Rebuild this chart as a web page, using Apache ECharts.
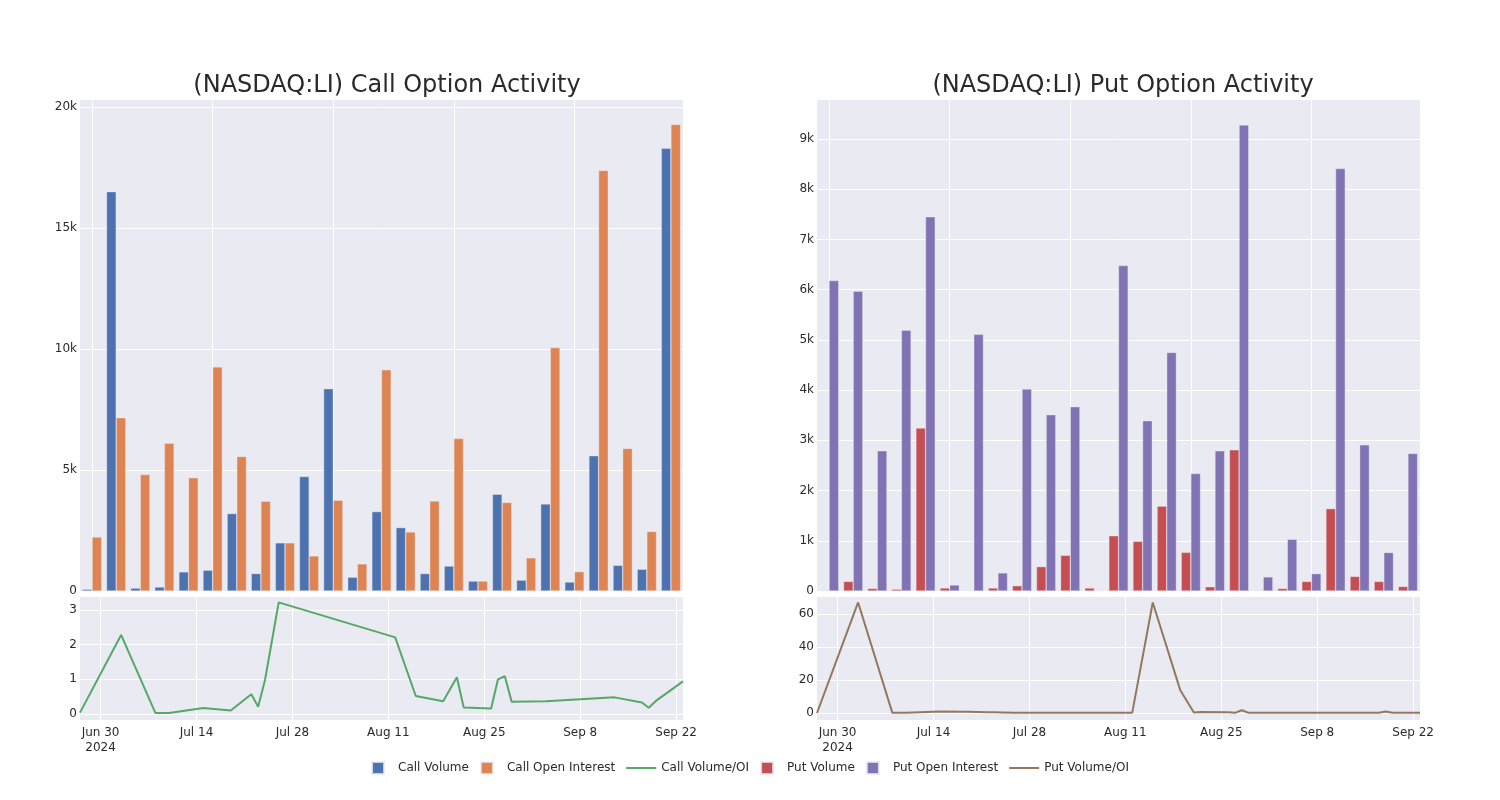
<!DOCTYPE html>
<html>
<head>
<meta charset="utf-8">
<script src="https://cdn.jsdelivr.net/npm/echarts@6/dist/echarts.min.js"></script>
<style>html,body{margin:0;padding:0;background:#fff;}#chart{width:1500px;height:800px;}</style>
</head>
<body>
<div id="chart"></div>
<script>
// ---- data ----
const dates = ['2024-06-27','2024-07-03','2024-07-08','2024-07-10','2024-07-15','2024-07-19','2024-07-22','2024-07-23','2024-07-24','2024-07-26',
  '2024-08-12','2024-08-15','2024-08-19','2024-08-21','2024-08-22','2024-08-26','2024-08-27','2024-08-28','2024-08-29','2024-09-03',
  '2024-09-13','2024-09-17','2024-09-18','2024-09-19','2024-09-23'];
const callVolume = [70,16500,120,165,790,860,3200,720,1990,4730,8360,570,3280,2620,720,1030,410,4000,450,3600,370,5590,1060,900,18300];
const callOpenInterest = [2230,7160,4810,6110,4680,9260,5560,3710,1990,1450,3750,1120,9140,2440,3720,6300,410,3660,1370,10060,800,17380,5890,2460,19280];
const callVolOI = [0.04,2.28,0.03,0.03,0.17,0.10,0.57,0.21,0.98,3.22,2.21,0.52,0.37,1.06,0.19,0.16,1.00,1.09,0.35,0.37,0.48,0.33,0.18,0.37,0.94];
const putVolume = [10,190,50,35,3245,60,10,60,105,485,710,60,1100,990,1690,770,85,2810,5,50,190,1640,290,190,90];
const putOpenInterest = [6180,5970,2790,5190,7450,120,5110,360,4020,3510,3670,0,6480,3390,4750,2340,2790,9280,280,1030,345,8410,2910,765,2740];
const putVolOI = [0,67,0.1,0.2,0.9,0.7,0.5,0.4,0.3,0.1,0.1,67,14,0.3,0.6,0.4,0.1,1.7,0.1,0.1,0.1,0.2,0.9,0.1,0.1];
const xTickDays = [0,14,28,42,56,70,84];
const xTickLabels = ['Jun 30\n2024','Jul 14','Jul 28','Aug 11','Aug 25','Sep 8','Sep 22'];
const callBarTicks = [0,5000,10000,15000,20000];
const callBarTickLabels = ['0','5k','10k','15k','20k'];
const putBarTicks = [0,1000,2000,3000,4000,5000,6000,7000,8000,9000];
const putBarTickLabels = ['0','1k','2k','3k','4k','5k','6k','7k','8k','9k'];
const callRatioTicks = [0,1,2,3];
const putRatioTicks = [0,20,40,60];

// ---- helpers ----
const base = Date.parse('2024-06-30T00:00:00Z');
const dayOff = d => Math.round((Date.parse(d + 'T00:00:00Z') - base) / 86400000);
const callLine = dates.map((d, i) => [dayOff(d), callVolOI[i]]);
const putLine = dates.map((d, i) => [dayOff(d), putVolOI[i]]);
const FONT = '"DejaVu Sans", "Open Sans", sans-serif';
const TXT = '#2a2a2a';
const GRIDBG = '#EAEAF2';
const C = {blue:'#4C72B0', orange:'#DD8452', green:'#55A868', red:'#C44E52', purple:'#8172B3', brown:'#937860'};

function catAxis(gi) {
  return {type:'category', gridIndex:gi, data:dates, boundaryGap:true,
    axisLine:{show:false}, axisTick:{show:false}, axisLabel:{show:false},
    splitLine:{show:true, interval:4, alignWithLabel:true, lineStyle:{color:'#fff', width:1}}};
}
function dayAxis(gi) {
  return {type:'value', gridIndex:gi, min:-3, max:85,
    axisLine:{show:false},
    axisTick:{show:false, customValues:xTickDays},
    axisLabel:{customValues:xTickDays, margin:5, color:TXT, fontFamily:FONT, fontSize:12, lineHeight:15,
      formatter: v => { const k = xTickDays.indexOf(Math.round(v)); return k >= 0 ? xTickLabels[k] : ''; }},
    splitLine:{show:true, lineStyle:{color:'#fff', width:1}}};
}
function valAxis(gi, min, max, ticks, labels) {
  return {type:'value', gridIndex:gi, min:min, max:max,
    axisLine:{show:false},
    axisTick:{show:false, customValues:ticks},
    axisLabel:{customValues:ticks, margin:3, color:TXT, fontFamily:FONT, fontSize:12,
      formatter: v => { const k = ticks.indexOf(v); return k >= 0 ? labels[k] : ''; }},
    splitLine:{show:true, lineStyle:{color:'#fff', width:1}}};
}
const barStyle = col => ({color:col, borderColor:'rgba(234,234,242,0.8)', borderWidth:0.5});

const square = 'path://M0,0h12v12h-12z';
const lineIcon = 'path://M0,0h30v2h-30z';
const legendWidths = {'Call Volume':77, 'Call Open Interest':108, 'Call Volume/OI':94, 'Put Volume':75, 'Put Open Interest':105, 'Put Volume/OI':84};
const legendKeys = {'Call Volume':'a', 'Call Open Interest':'b', 'Call Volume/OI':'c', 'Put Volume':'d', 'Put Open Interest':'e', 'Put Volume/OI':'f'};
const legendRich = {};
Object.keys(legendKeys).forEach(n => {
  legendRich[legendKeys[n]] = {width:legendWidths[n], fontFamily:FONT, fontSize:12, color:TXT, align:'left'};
});

const option = {
  animation:false,
  backgroundColor:'#fff',
  textStyle:{fontFamily:FONT},
  title:[
    {text:'(NASDAQ:LI) Call Option Activity', left:382, top:69, textAlign:'center',
      textStyle:{fontFamily:FONT, fontSize:24, fontWeight:'normal', color:TXT}},
    {text:'(NASDAQ:LI) Put Option Activity', left:1118, top:69, textAlign:'center',
      textStyle:{fontFamily:FONT, fontSize:24, fontWeight:'normal', color:TXT}}
  ],
  legend:{bottom:20, left:'center', itemWidth:30, itemHeight:12, itemGap:11,
    textStyle:{fontFamily:FONT, fontSize:12, color:TXT, rich:legendRich},
    formatter: name => '{' + legendKeys[name] + '|' + name + '}',
    data:[
      {name:'Call Volume', icon:square},
      {name:'Call Open Interest', icon:square},
      {name:'Call Volume/OI', icon:lineIcon},
      {name:'Put Volume', icon:square},
      {name:'Put Open Interest', icon:square},
      {name:'Put Volume/OI', icon:lineIcon}
    ]},
  grid:[
    {left:80, top:100, width:603, height:491, show:true, backgroundColor:GRIDBG, borderWidth:0},
    {left:80, top:597, width:603, height:123, show:true, backgroundColor:GRIDBG, borderWidth:0},
    {left:817, top:100, width:603, height:491, show:true, backgroundColor:GRIDBG, borderWidth:0},
    {left:817, top:597, width:603, height:123, show:true, backgroundColor:GRIDBG, borderWidth:0}
  ],
  xAxis:[catAxis(0), dayAxis(1), catAxis(2), dayAxis(3)],
  yAxis:[
    valAxis(0, 0, 20290, callBarTicks, callBarTickLabels),
    valAxis(1, -0.173, 3.375, callRatioTicks, callRatioTicks.map(String)),
    valAxis(2, 0, 9776, putBarTicks, putBarTickLabels),
    valAxis(3, -4.24, 70.3, putRatioTicks, putRatioTicks.map(String))
  ],
  series:[
    {name:'Call Volume', type:'bar', xAxisIndex:0, yAxisIndex:0, data:callVolume, barGap:'0%', barCategoryGap:'20%', itemStyle:barStyle(C.blue)},
    {name:'Call Open Interest', type:'bar', xAxisIndex:0, yAxisIndex:0, data:callOpenInterest, barGap:'0%', barCategoryGap:'20%', itemStyle:barStyle(C.orange)},
    {name:'Call Volume/OI', type:'line', xAxisIndex:1, yAxisIndex:1, data:callLine, showSymbol:false, symbol:'none', lineStyle:{color:C.green, width:2}, itemStyle:{color:C.green}},
    {name:'Put Volume', type:'bar', xAxisIndex:2, yAxisIndex:2, data:putVolume, barGap:'0%', barCategoryGap:'20%', itemStyle:barStyle(C.red)},
    {name:'Put Open Interest', type:'bar', xAxisIndex:2, yAxisIndex:2, data:putOpenInterest, barGap:'0%', barCategoryGap:'20%', itemStyle:barStyle(C.purple)},
    {name:'Put Volume/OI', type:'line', xAxisIndex:3, yAxisIndex:3, data:putLine, showSymbol:false, symbol:'none', lineStyle:{color:C.brown, width:2}, itemStyle:{color:C.brown}}
  ]
};
const chart = echarts.init(document.getElementById('chart'), null, {renderer:'canvas'});
chart.setOption(option);
</script>
</body>
</html>
